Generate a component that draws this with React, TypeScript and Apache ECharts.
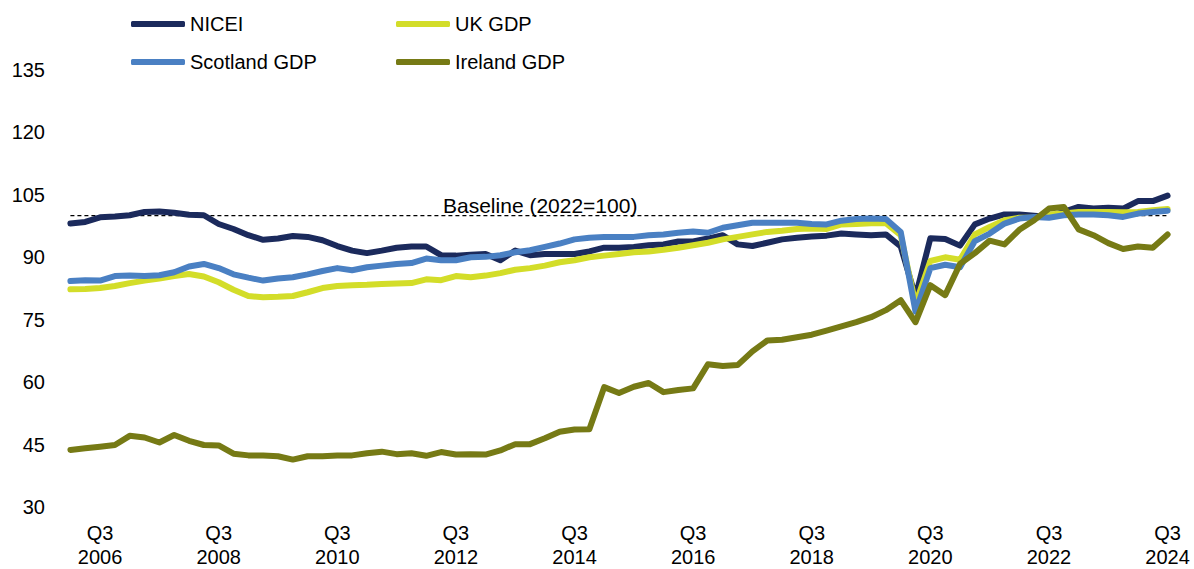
import React, { useEffect, useRef } from "react";
import * as echarts from "echarts";

const years = [2006, 2007, 2008, 2009, 2010, 2011, 2012, 2013, 2014, 2015, 2016, 2017, 2018, 2019, 2020, 2021, 2022, 2023, 2024];
const quarters = ["Q1", "Q2", "Q3", "Q4"];
const categories: string[] = [];
years.forEach((y) => quarters.forEach((q) => {
  if (y === 2024 && (q === "Q4")) return;
  categories.push(q + "\n" + y);
}));

const nicei = [
  98.1, 98.5, 99.6, 99.8, 100.1, 100.9, 101.0, 100.7, 100.2, 100.1,
  98.0, 96.8, 95.3, 94.2, 94.5, 95.1, 94.9, 94.1, 92.7, 91.6,
  91.0, 91.6, 92.3, 92.6, 92.6, 90.5, 90.4, 90.6, 90.8, 89.3,
  91.6, 90.5, 90.8, 90.8, 90.8, 91.4, 92.3, 92.3, 92.5, 92.9,
  93.1, 93.8, 93.8, 94.5, 95.3, 93.1, 92.7, 93.5, 94.3, 94.7,
  95.0, 95.2, 95.7, 95.5, 95.3, 95.5, 92.6, 80.5, 94.6, 94.4,
  92.8, 97.9, 99.3, 100.3, 100.3, 100.0, 99.7, 100.9, 102.1, 101.7,
  101.9, 101.7, 103.5, 103.5, 104.8,
];
const ukGdp = [
  82.3, 82.4, 82.6, 83.1, 83.8, 84.4, 84.9, 85.5, 86.0, 85.4,
  84.0, 82.2, 80.7, 80.4, 80.5, 80.7, 81.6, 82.6, 83.1, 83.3,
  83.4, 83.6, 83.7, 83.8, 84.7, 84.5, 85.5, 85.2, 85.6, 86.2,
  87.0, 87.4, 88.0, 88.8, 89.3, 90.0, 90.4, 90.8, 91.2, 91.4,
  91.8, 92.3, 92.9, 93.5, 94.3, 94.9, 95.5, 96.1, 96.4, 96.8,
  96.9, 96.8, 97.9, 98.0, 98.2, 98.2, 95.3, 78.8, 89.1, 90.0,
  89.4, 95.5, 97.3, 98.9, 99.5, 99.5, 100.3, 100.5, 100.9, 100.9,
  100.9, 100.8, 100.9, 101.3, 101.6,
];
const scotlandGdp = [
  84.3, 84.5, 84.4, 85.5, 85.6, 85.5, 85.7, 86.4, 87.8, 88.4,
  87.4, 85.9, 85.1, 84.4, 84.9, 85.2, 85.9, 86.7, 87.4, 86.9,
  87.6, 88.0, 88.4, 88.6, 89.7, 89.3, 89.3, 90.0, 90.1, 90.5,
  91.2, 91.7, 92.5, 93.3, 94.3, 94.7, 94.9, 94.9, 94.9, 95.3,
  95.5, 95.9, 96.2, 95.9, 97.1, 97.7, 98.3, 98.3, 98.3, 98.3,
  98.0, 97.9, 98.8, 99.2, 99.3, 99.2, 96.1, 76.9, 87.4, 88.2,
  87.6, 93.9, 95.7, 98.1, 99.3, 99.7, 99.5, 100.1, 100.3, 100.3,
  100.1, 99.7, 100.5, 100.9, 101.2,
];
const irelandGdp = [
  43.7, 44.1, 44.5, 44.9, 47.1, 46.7, 45.5, 47.3, 45.9, 44.9,
  44.8, 42.8, 42.4, 42.4, 42.2, 41.4, 42.2, 42.2, 42.4, 42.4,
  42.9, 43.3, 42.7, 42.9, 42.3, 43.2, 42.6, 42.7, 42.6, 43.6,
  45.1, 45.1, 46.5, 48.1, 48.6, 48.7, 58.8, 57.4, 58.9, 59.8,
  57.6, 58.1, 58.5, 64.3, 63.9, 64.1, 67.4, 70.0, 70.2, 70.8,
  71.4, 72.4, 73.4, 74.4, 75.6, 77.3, 79.7, 74.4, 83.3, 80.9,
  88.4, 91.0, 94.0, 93.1, 96.6, 98.9, 101.7, 102.1, 96.7, 95.3,
  93.4, 92.0, 92.6, 92.3, 95.5,
];
const baselineValue = 100;
const baseline = categories.map(() => baselineValue);
const yTicks = { min: 30, max: 135, interval: 15 };

const FONT = "'Liberation Sans', Arial, sans-serif";

export default function App() {
  const ref = useRef<HTMLDivElement>(null);
  useEffect(() => {
    if (!ref.current) return;
    const chart = echarts.init(ref.current, undefined, { renderer: "svg" });
    const lineSeries = (name: string, data: number[], color: string) => ({
      name,
      type: "line",
      data,
      symbol: "none",
      lineStyle: { color, width: 6, cap: "round", join: "round" },
      itemStyle: { color },
    });
    const legendBase = {
      orient: "vertical",
      top: 14,
      padding: 0,
      itemWidth: 54,
      itemHeight: 6,
      itemGap: 18,
      icon: "roundRect",
      textStyle: { fontSize: 20, color: "#000", fontFamily: FONT, lineHeight: 20 },
    };
    chart.setOption({
      animation: false,
      textStyle: { fontFamily: FONT },
      grid: { left: 63, right: 19, top: 70, bottom: 56 },
      legend: [
        { ...legendBase, data: ["NICEI", "Scotland GDP"], left: 131 },
        { ...legendBase, data: ["UK GDP", "Ireland GDP"], left: 396 },
      ],
      xAxis: {
        type: "category",
        data: categories,
        boundaryGap: true,
        axisLine: { show: false },
        axisTick: { show: false },
        splitLine: { show: false },
        axisLabel: {
          interval: (idx: number) => idx % 8 === 2,
          color: "#000",
          fontSize: 20,
          lineHeight: 24,
          margin: 14,
          fontFamily: FONT,
        },
      },
      yAxis: {
        type: "value",
        min: yTicks.min,
        max: yTicks.max,
        interval: yTicks.interval,
        axisLine: { show: false },
        axisTick: { show: false },
        splitLine: { show: false },
        axisLabel: { color: "#000", fontSize: 20, margin: 18, fontFamily: FONT },
      },
      graphic: [
        {
          type: "text",
          left: 443,
          top: 195,
          style: { text: "Baseline (2022=100)", fontSize: 21, fill: "#000", fontFamily: FONT },
        },
      ],
      series: [
        {
          name: "Baseline",
          type: "line",
          data: baseline,
          symbol: "none",
          lineStyle: { color: "#000", width: 1.2, type: [4, 3] },
          z: 1,
        },
        lineSeries("NICEI", nicei, "#1B2A5C"),
        lineSeries("UK GDP", ukGdp, "#D3DD29"),
        lineSeries("Scotland GDP", scotlandGdp, "#4A80C3"),
        lineSeries("Ireland GDP", irelandGdp, "#767A15"),
      ],
    });
    return () => chart.dispose();
  }, []);
  return (
    <div
      ref={ref}
      style={{ position: "fixed", left: 0, top: 0, width: 1194, height: 569, background: "#fff" }}
    />
  );
}
